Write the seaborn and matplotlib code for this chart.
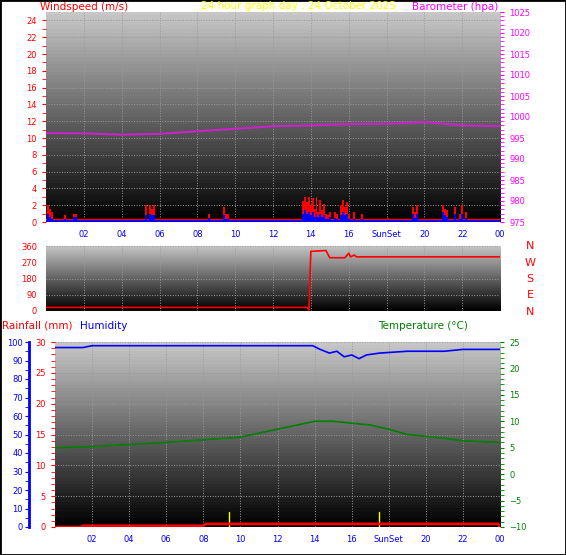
import numpy as np
import matplotlib
matplotlib.use("Agg")
import matplotlib.pyplot as plt
import seaborn as sns

# wind (m/s)
gust_t = [0.1, 0.2, 0.3, 1.0, 1.5, 1.6, 5.3, 5.5, 5.6, 5.7, 8.6, 9.4, 9.5, 9.6,
          13.6, 13.7, 13.8, 13.9, 14.0, 14.1, 14.2, 14.3, 14.4, 14.5, 14.6, 14.7, 14.8, 14.9, 15.0,
          15.3, 15.4, 15.6, 15.7, 15.8, 15.9, 16.0, 16.3, 16.7, 18.1, 19.4, 19.5, 19.6,
          21.0, 21.1, 21.2, 21.6, 21.9, 22.0, 22.2]
gust_v = [2.0, 1.5, 1.2, 0.8, 1.0, 1.0, 2.0, 2.0, 1.6, 2.0, 1.0, 1.8, 1.0, 1.0,
          2.5, 3.0, 2.4, 3.0, 2.0, 2.8, 1.5, 3.0, 1.2, 2.6, 1.4, 2.2, 1.0, 0.8, 1.2,
          1.2, 1.0, 2.0, 2.6, 1.8, 2.4, 1.0, 1.2, 1.0, 0.5, 1.8, 1.2, 2.0,
          2.0, 1.6, 1.4, 1.8, 1.0, 2.0, 1.2]
avg_v = [1.0, 0.6, 0.4, 0.3, 0.6, 0.6, 0.8, 1.0, 0.8, 0.8, 0.5, 0.8, 0.4, 0.4,
         1.0, 1.4, 1.0, 1.2, 0.8, 1.2, 0.6, 1.0, 0.6, 1.0, 0.6, 0.8, 0.4, 0.3, 0.6,
         0.5, 0.4, 0.8, 1.2, 0.8, 1.0, 0.4, 0.4, 0.4, 0.2, 0.9, 0.5, 0.9,
         1.2, 0.8, 0.6, 0.9, 0.4, 0.9, 0.5]
# barometer (hPa)
baro_t = [0, 2, 4, 6, 8, 10, 12, 14, 16, 18, 20, 21, 22, 24]
baro_v = [996.2, 996.1, 995.8, 996.0, 996.6, 997.2, 997.8, 998.0, 998.3, 998.4, 998.8, 998.4, 998.0, 997.8]
# wind direction (deg)
dir_t = [0, 13.8, 13.9, 14.0, 14.8, 15.0, 15.8, 16.0, 16.1, 16.3, 16.4, 24]
dir_v = [20, 20, 5, 330, 335, 295, 295, 320, 300, 310, 300, 300]
# humidity (%)
hum_t = [0, 1.5, 2, 4, 8, 12, 13.9, 14.3, 14.8, 15.2, 15.6, 16.0, 16.4, 16.8, 17.5, 19, 21, 22, 24]
hum_v = [97, 97, 98, 98, 98, 98, 98, 96, 94, 95, 92, 93, 91, 93, 94, 95, 95, 96, 96]
# temperature (C)
temp_t = [0, 2, 4, 6, 8, 10, 12, 14, 15, 17, 18, 19, 21, 22, 24]
temp_v = [5.0, 5.2, 5.6, 6.0, 6.5, 7.0, 8.5, 10.0, 10.0, 9.3, 8.5, 7.5, 6.8, 6.3, 6.0]
# rainfall (mm)
rain_t = [0, 1.4, 1.5, 8.0, 8.1, 23.8, 23.9, 24]
rain_v = [0.0, 0.0, 0.2, 0.2, 0.5, 0.5, 0.5, 0.0]
sun_t = [9.4, 17.5]

hour_ticks = list(range(2, 25, 2))
hour_labels = ["02", "04", "06", "08", "10", "12", "14", "16", "SunSet", "20", "22", "00"]

sns.set_style("white")
plt.rcParams["font.family"] = ["DejaVu Sans"]
plt.rcParams["font.size"] = 6

fig = plt.figure(figsize=(5.66, 5.55), dpi=100)
W, H = 566, 555


def panel(l, t, r, b):
    return fig.add_axes([l / W, 1 - b / H, (r - l) / W, (b - t) / H])


def background(ax):
    grad = np.linspace(0.78, 0.0, 60).reshape(-1, 1)
    ax.imshow(grad, cmap="gray", vmin=0, vmax=1, aspect="auto",
              extent=[0, 1, 0, 1], transform=ax.transAxes, zorder=0)
    ax.grid(True, color="#9a9a9a", linestyle=":", linewidth=0.7)
    for s in ax.spines.values():
        s.set_visible(False)


def hours(ax, labels=True):
    ax.set_xlim(0, 24)
    ax.set_xticks(hour_ticks)
    ax.set_xticks(range(25), minor=True)
    ax.tick_params(axis="x", which="both", colors="blue", length=2)
    if labels:
        ax.set_xticklabels(hour_labels, color="blue")
    else:
        ax.set_xticklabels([])


# --- panel 1: wind + barometer
ax1 = panel(46, 12, 500, 222)
background(ax1)
hours(ax1)
ax1.set_ylim(0, 25)
ax1.set_yticks(range(0, 25, 2))
ax1.set_yticks(range(25), minor=True)
ax1.tick_params(axis="y", which="both", colors="red", length=3, labelcolor="red")
ax1.bar(gust_t, gust_v, width=0.1, color="red", linewidth=0, zorder=3)
ax1.bar(gust_t, avg_v, width=0.1, color="blue", linewidth=0, zorder=4)
ax1.axhline(0.15, color="blue", lw=1.5, zorder=3)
ax1.axhline(0.4, color="red", lw=1, zorder=3)
axp = ax1.twinx()
for s in axp.spines.values():
    s.set_visible(False)
axp.set_ylim(975, 1025)
axp.set_yticks(range(975, 1026, 5))
axp.set_yticks(range(975, 1026, 1), minor=True)
axp.tick_params(axis="y", which="both", colors="magenta", length=3)
sns.lineplot(x=baro_t, y=baro_v, ax=axp, color="#cc22cc", lw=1.5)
axp.set_xlim(0, 24)
fig.text(40 / W, 1 - 7 / H, "Windspeed (m/s)", color="red", fontsize=7.5, va="center")
fig.text(298 / W, 1 - 6 / H, "24 hour graph day : 24 October 2025", color="yellow",
         fontsize=7.5, va="center", ha="center")
fig.text(412 / W, 1 - 7 / H, "Barometer (hpa)", color="magenta", fontsize=7.5, va="center")

# --- panel 2: wind direction
ax2 = panel(46, 246, 500, 311)
background(ax2)
hours(ax2, labels=False)
ax2.tick_params(axis="x", length=0)
ax2.set_ylim(0, 360)
ax2.set_yticks([0, 90, 180, 270, 360])
ax2.tick_params(axis="y", colors="red", length=3)
sns.lineplot(x=dir_t, y=dir_v, ax=ax2, color="red", lw=1.2)
for i, c in enumerate(["N", "W", "S", "E", "N"]):
    fig.text(530 / W, 1 - (246 + i * 16.5) / H, c, color="red", fontsize=8, ha="center", va="center")

# --- panel 3: humidity, temperature, rain
ax3 = panel(55, 342, 500, 527)
background(ax3)
hours(ax3)
ax3.set_ylim(0, 30)
ax3.set_yticks(range(0, 31, 5))
ax3.set_yticks(range(31), minor=True)
ax3.tick_params(axis="y", which="both", colors="red", length=3)
ax3.plot(rain_t, rain_v, color="red", lw=2, zorder=4)
for t in sun_t:
    ax3.axvline(t, ymin=0, ymax=0.08, color="yellow", lw=1, zorder=3)
axt = ax3.twinx()
for s in axt.spines.values():
    s.set_visible(False)
axt.set_ylim(-10, 25)
axt.set_yticks(range(-10, 26, 5))
axt.set_yticks(range(-10, 26), minor=True)
axt.tick_params(axis="y", which="both", colors="green", labelcolor="green", length=3)
sns.lineplot(x=temp_t, y=temp_v, ax=axt, color="green", lw=1.2)
axh = ax3.twinx()
axh.spines["left"].set_position(("outward", 19))
axh.spines["left"].set_color("blue")
axh.spines["left"].set_linewidth(2)
for k in ["right", "top", "bottom"]:
    axh.spines[k].set_visible(False)
axh.yaxis.set_label_position("left")
axh.yaxis.set_ticks_position("left")
axh.set_ylim(0, 100)
axh.set_yticks(range(0, 101, 10))
axh.set_yticks(range(0, 101, 5), minor=True)
axh.tick_params(axis="y", which="both", colors="blue", length=3, pad=1)
sns.lineplot(x=hum_t, y=hum_v, ax=axh, color="blue", lw=1.2)
axh.set_xlim(0, 24)
fig.text(2 / W, 1 - 326 / H, "Rainfall (mm)", color="red", fontsize=7.5, va="center")
fig.text(80 / W, 1 - 326 / H, "Humidity", color="blue", fontsize=7.5, va="center")
fig.text(378 / W, 1 - 326 / H, "Temperature (°C)", color="green", fontsize=7.5, va="center")

for a in fig.axes:
    a.set_xlabel("")
    a.set_ylabel("")
fig.patches.append(plt.Rectangle((0, 0), 1, 1, transform=fig.transFigure,
                                 fill=False, edgecolor="black", lw=2))
fig.savefig("out.png", dpi=100)
